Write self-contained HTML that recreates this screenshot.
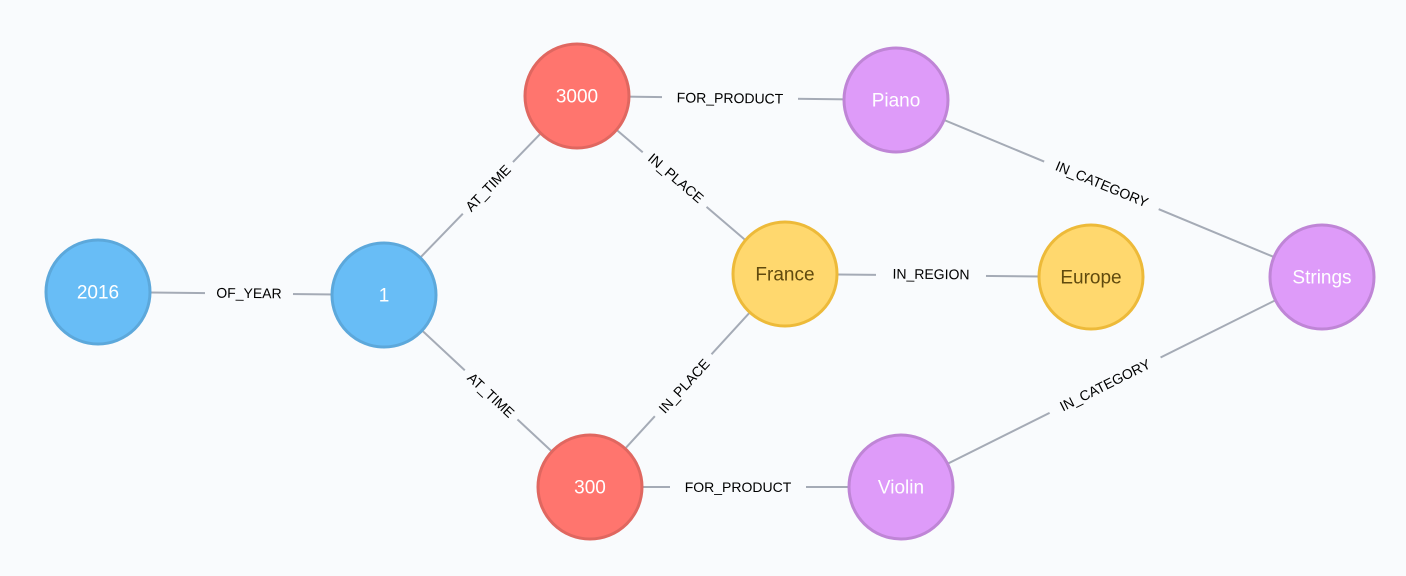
<!DOCTYPE html>
<html><head><meta charset="utf-8"><style>
html,body{margin:0;padding:0;background:#F9FBFD;}
svg{display:block}
.e{stroke:#A5ABB6;stroke-width:2;fill:none}
.lb{fill:#F9FBFD}
.lt{font-family:"Liberation Sans",sans-serif;font-size:14px;fill:#000;text-anchor:middle;dominant-baseline:central}
.nt{font-family:"Liberation Sans",sans-serif;font-size:19px;text-anchor:middle;dominant-baseline:central;fill:#fff}
</style></head><body>
<svg width="1406" height="576" viewBox="0 0 1406 576">
<defs>
<marker id="a" markerUnits="userSpaceOnUse" markerWidth="10" markerHeight="10" refX="0" refY="0" viewBox="-80 -10 90 20" orient="auto" overflow="visible">
<path d="M-68 -6 L-56 0 L-68 6 z" fill="#A5ABB6"/>
</marker>
</defs>
<g class="e" marker-end="url(#a)">
<line x1="577" y1="96" x2="896" y2="100"/>
<line x1="577" y1="96" x2="384" y2="295"/>
<line x1="577" y1="96" x2="785" y2="274"/>
<line x1="384" y1="295" x2="98" y2="292"/>
<line x1="590" y1="487" x2="384" y2="295"/>
<line x1="590" y1="487" x2="785" y2="274"/>
<line x1="590" y1="487" x2="901" y2="487"/>
<line x1="785" y1="274" x2="1091" y2="277"/>
<line x1="896" y1="100" x2="1322" y2="277"/>
<line x1="901" y1="487" x2="1322" y2="277"/>
</g>
<g>
<g transform="translate(730,98) rotate(0.7)"><rect class="lb" x="-68" y="-9" width="136" height="18"/><text class="lt">FOR_PRODUCT</text></g>
<g transform="translate(488,188) rotate(-46)"><rect class="lb" x="-36" y="-9" width="72" height="18"/><text class="lt">AT_TIME</text></g>
<g transform="translate(676,178) rotate(40.6)"><rect class="lb" x="-42" y="-9" width="84" height="18"/><text class="lt">IN_PLACE</text></g>
<g transform="translate(249,293) rotate(0.6)"><rect class="lb" x="-44" y="-9" width="88" height="18"/><text class="lt">OF_YEAR</text></g>
<g transform="translate(491,395) rotate(43)"><rect class="lb" x="-36" y="-9" width="72" height="18"/><text class="lt">AT_TIME</text></g>
<g transform="translate(684,386) rotate(-47.5)"><rect class="lb" x="-42" y="-9" width="84" height="18"/><text class="lt">IN_PLACE</text></g>
<g transform="translate(738,487)"><rect class="lb" x="-68" y="-9" width="136" height="18"/><text class="lt">FOR_PRODUCT</text></g>
<g transform="translate(931,274) rotate(0.6)"><rect class="lb" x="-55" y="-9" width="110" height="18"/><text class="lt">IN_REGION</text></g>
<g transform="translate(1102,184) rotate(22.6)"><rect class="lb" x="-62" y="-9" width="124" height="18"/><text class="lt">IN_CATEGORY</text></g>
<g transform="translate(1105,385) rotate(-26.5)"><rect class="lb" x="-62" y="-9" width="124" height="18"/><text class="lt">IN_CATEGORY</text></g>
</g>
<g stroke-width="3">
<circle cx="98" cy="292" r="52" fill="#68BDF6" stroke="#5CA8DB"/>
<circle cx="384" cy="295" r="52" fill="#68BDF6" stroke="#5CA8DB"/>
<circle cx="577" cy="96" r="52" fill="#FF756E" stroke="#E06760"/>
<circle cx="590" cy="487" r="52" fill="#FF756E" stroke="#E06760"/>
<circle cx="785" cy="274" r="52" fill="#FFD86E" stroke="#EDBA39"/>
<circle cx="1091" cy="277" r="52" fill="#FFD86E" stroke="#EDBA39"/>
<circle cx="896" cy="100" r="52" fill="#DE9BF9" stroke="#BF85D6"/>
<circle cx="901" cy="487" r="52" fill="#DE9BF9" stroke="#BF85D6"/>
<circle cx="1322" cy="277" r="52" fill="#DE9BF9" stroke="#BF85D6"/>
</g>
<text class="nt" x="98" y="293">2016</text>
<text class="nt" x="384" y="296">1</text>
<text class="nt" x="577" y="97">3000</text>
<text class="nt" x="590" y="488">300</text>
<text class="nt" x="785" y="275" style="fill:#604A0E">France</text>
<text class="nt" x="1091" y="278" style="fill:#604A0E">Europe</text>
<text class="nt" x="896" y="101">Piano</text>
<text class="nt" x="901" y="488">Violin</text>
<text class="nt" x="1322" y="278">Strings</text>
</svg>
</body></html>
